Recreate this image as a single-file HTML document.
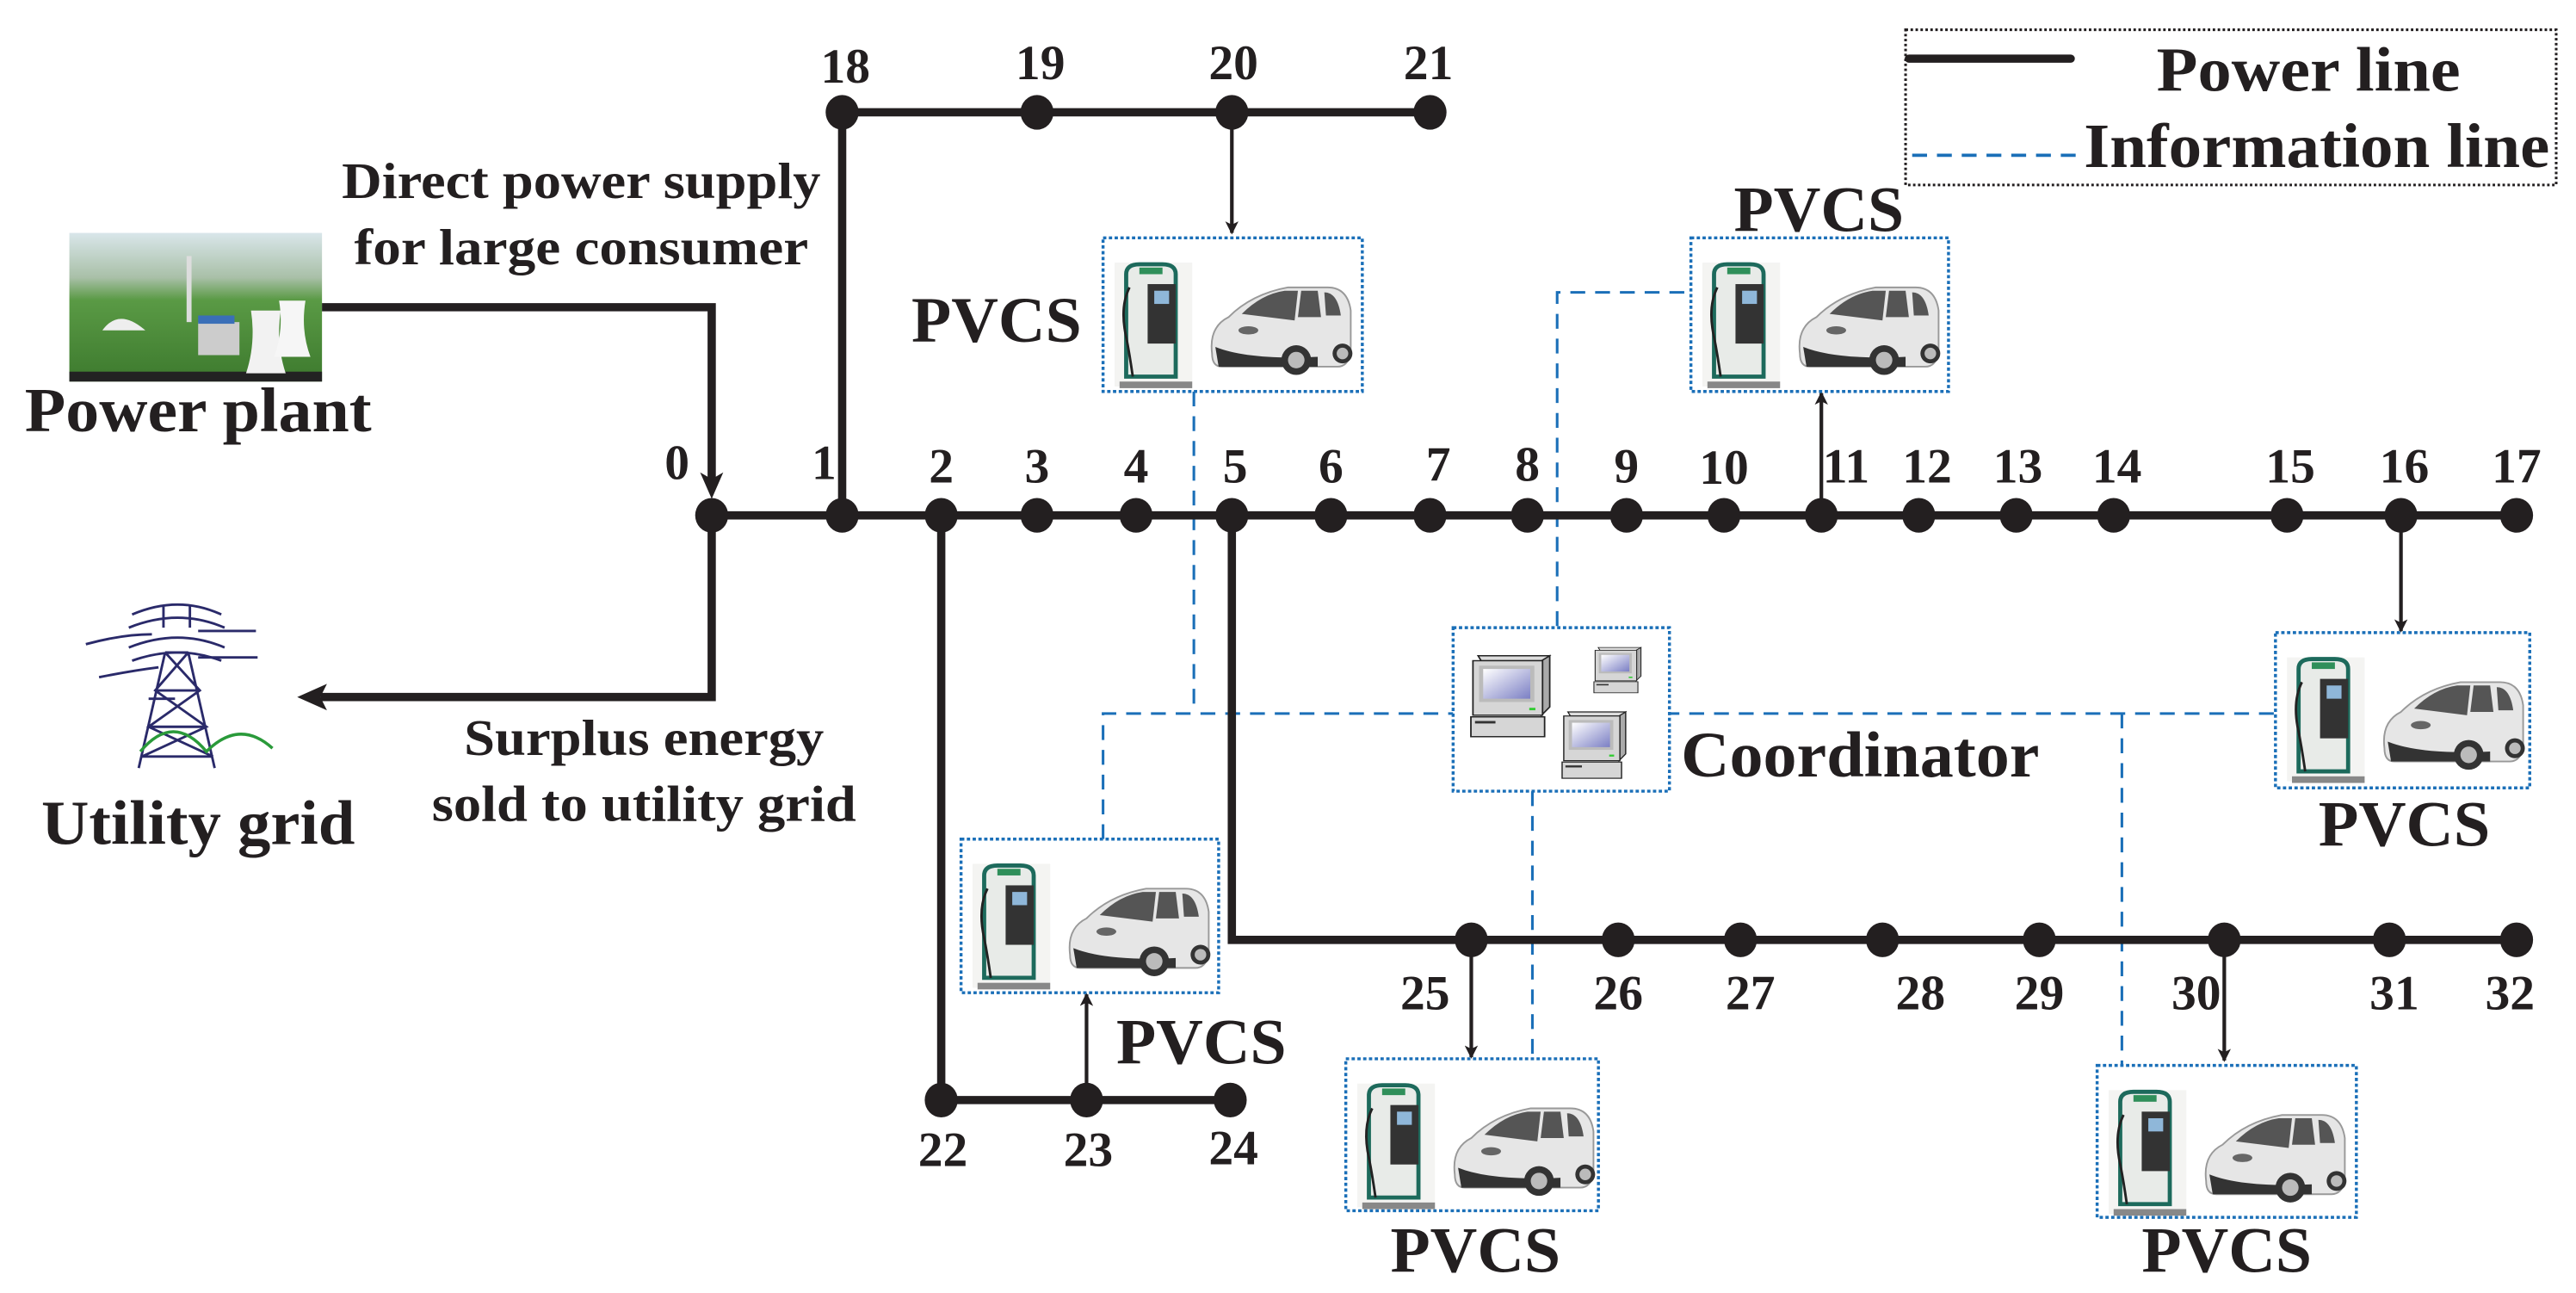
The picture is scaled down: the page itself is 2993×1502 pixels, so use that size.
<!DOCTYPE html>
<html><head><meta charset="utf-8"><style>
html,body{margin:0;padding:0;background:#fff}
svg{display:block}
text{font-family:"Liberation Serif",serif;font-weight:bold;fill:#231f20}
</style></head><body>
<svg width="2993" height="1502" viewBox="0 0 1560 782.8" preserveAspectRatio="none" xmlns="http://www.w3.org/2000/svg">
<defs>
<marker id="ah" markerWidth="8" markerHeight="8" refX="7" refY="4" orient="auto" markerUnits="userSpaceOnUse">
<path d="M0,0 L8,4 L0,8 L2,4 Z" fill="#231f20"/>
</marker>
<linearGradient id="scr" x1="0" y1="0" x2="1" y2="1"><stop offset="0" stop-color="#fff"/><stop offset="1" stop-color="#7b7fc4"/></linearGradient>
<linearGradient id="sky" x1="0" y1="0" x2="0" y2="1"><stop offset="0" stop-color="#d9e6ea"/><stop offset="0.3" stop-color="#a9c0a8"/><stop offset="0.45" stop-color="#5a9a45"/><stop offset="1" stop-color="#3d7a2e"/></linearGradient>
<g id="st">
  <rect x="7" y="15" width="47" height="75" fill="#f4f4f2"/>
  <rect x="10" y="87" width="44" height="4" fill="#888"/>
  <path d="M14,22 q0,-6 8,-6 h14 q8,0 8,6 v62 h-30 z" fill="#e8ebe8" stroke="#1d6a5c" stroke-width="2.5"/>
  <rect x="27" y="28" width="17" height="36" fill="#333"/>
  <rect x="31" y="32" width="9" height="8" fill="#8fb7d9"/>
  <rect x="22" y="18" width="14" height="4" fill="#2f8f5a"/>
  <path d="M16,30 q-6,12 -2,30 q2,10 4,24" fill="none" stroke="#222" stroke-width="1.5"/>
  <path d="M66,70 q-2,-16 10,-22 q14,-14 36,-18 h24 q12,0 14,14 v26 q-2,8 -8,8 h-70 q-6,0 -6,-8z" fill="#e6e6e6" stroke="#999" stroke-width="1"/>
  <path d="M84,46 q12,-12 26,-14 h8 l-2,18 z" fill="#555"/>
  <path d="M120,32 h10 l2,16 h-14 z M134,33 q8,0 10,14 h-9 z" fill="#555"/>
  <path d="M68,66 q20,8 62,6 v6 h-60 z" fill="#333"/>
  <circle cx="117" cy="74" r="9" fill="#333"/><circle cx="117" cy="74" r="5" fill="#bbb"/>
  <circle cx="145" cy="70" r="6" fill="#333"/><circle cx="145" cy="70" r="3.5" fill="#bbb"/>
  <ellipse cx="88" cy="56" rx="6" ry="2.5" fill="#666"/>
</g>
<g id="pc">
  <path d="M5,0 h70 l-5,6 h-62z" fill="#ddd" stroke="#222" stroke-width="1.5"/>
  <path d="M75,0 v62 l-8,10 v-66z" fill="#aaa" stroke="#222" stroke-width="1.5"/>
  <rect x="0" y="6" width="68" height="66" fill="#d6d6d6" stroke="#222" stroke-width="1.5"/>
  <rect x="6" y="12" width="54" height="44" fill="#bbb"/>
  <rect x="10" y="16" width="46" height="36" fill="url(#scr)"/>
  <rect x="55" y="63" width="6" height="3" fill="#3c3"/>
  <rect x="-2" y="74" width="72" height="24" fill="#d6d6d6" stroke="#222" stroke-width="1.5"/>
  <rect x="2" y="79" width="20" height="3" fill="#333"/>
</g>
</defs>

<rect x="1154" y="18" width="394" height="94" fill="none" stroke="#231f20" stroke-width="1.6" stroke-dasharray="1.5 1.5"/>
<line x1="1156" y1="35.5" x2="1254" y2="35.5" stroke="#231f20" stroke-width="5" stroke-linecap="round"/>
<line x1="1158" y1="94" x2="1262" y2="94" stroke="#1a6fb8" stroke-width="2" stroke-dasharray="9 6"/>
<text x="1306" y="55" font-size="38" textLength="184" lengthAdjust="spacingAndGlyphs">Power line</text>
<text x="1262" y="101" font-size="38" textLength="282" lengthAdjust="spacingAndGlyphs">Information line</text>

<rect x="42" y="141" width="153" height="90" fill="url(#sky)"/>
<rect x="42" y="225" width="153" height="6" fill="#222"/>
<rect x="113" y="155" width="3" height="40" fill="#ddd"/>
<path d="M62,200 q10,-14 26,0 z" fill="#eee"/>
<rect x="120" y="195" width="25" height="20" fill="#ccc"/>
<rect x="120" y="191" width="22" height="5" fill="#3a6fb8"/>
<path d="M152,188 h18 q-3,20 3,38 h-24 q6,-18 3,-38z" fill="#f2f2f2"/>
<path d="M169,182 h16 q-3,18 3,34 h-22 q6,-16 3,-34z" fill="#f6f6f6"/>

<g stroke="#2a2a6a" stroke-width="1.5" fill="none">
<path d="M100,395 l-16,70 M114,395 l16,70 M100,395 h14 M94,418 h27 M90,440 h35 M86,458 h43 M100,395 l21,23 l-31,22 l39,18 M114,395 l-20,23 l31,22 l-39,18"/>
<path d="M78,380 q30,-12 58,0 M80,372 q28,-12 54,0 M99,366 v14 M115,366 v14 M80,400 q28,-10 54,0 M78,392 q30,-12 58,0"/>
<path d="M52,390 q22,-6 40,-6 M60,410 q20,-4 36,-6 M120,382 h35 M120,398 h36 M106,423 h-16"/>
</g>
<path d="M85,455 q20,-24 40,0 q20,-20 40,-2" fill="none" stroke="#2a9a3a" stroke-width="1.8"/>

<text x="352" y="120" font-size="31" text-anchor="middle" textLength="290" lengthAdjust="spacingAndGlyphs">Direct power supply</text>
<text x="352" y="160" font-size="31" text-anchor="middle" textLength="275" lengthAdjust="spacingAndGlyphs">for large consumer</text>
<text x="15" y="261" font-size="38" textLength="210" lengthAdjust="spacingAndGlyphs">Power plant</text>
<text x="390" y="457" font-size="31" text-anchor="middle" textLength="218" lengthAdjust="spacingAndGlyphs">Surplus energy</text>
<text x="390" y="497" font-size="31" text-anchor="middle" textLength="257" lengthAdjust="spacingAndGlyphs">sold to utility grid</text>
<text x="25" y="511" font-size="38" textLength="190" lengthAdjust="spacingAndGlyphs">Utility grid</text>

<g stroke="#1a6fb8" stroke-width="1.6" fill="none" stroke-dasharray="9 6">
<path d="M723,237 V432 M668,508 V432 H880"/>
<path d="M1008,432 H1378 M1285,432 V645"/>
<path d="M928,479 V645"/>
<path d="M943,379 V177 H1024"/>
</g>

<g stroke="#231f20" stroke-width="5" fill="none">
<line x1="431" y1="312" x2="1524" y2="312"/>
<polyline points="510,312 510,68 866,68"/>
<polyline points="746,312 746,569 1524,569"/>
<polyline points="570,312 570,666 745,666"/>
<polyline points="195,186 431,186 431,290"/>
<polyline points="431,312 431,422 194,422"/>
</g>
<path d="M431,302 L424,286 L431,290 L438,286 Z" fill="#231f20"/>
<path d="M180,422 L198,414 L194,422 L198,430 Z" fill="#231f20"/>
<g stroke="#231f20" stroke-width="2.2" fill="none">
<line x1="746" y1="68" x2="746" y2="141" marker-end="url(#ah)"/>
<line x1="1103" y1="312" x2="1103" y2="238" marker-end="url(#ah)"/>
<line x1="1454" y1="312" x2="1454" y2="382" marker-end="url(#ah)"/>
<line x1="658" y1="666" x2="658" y2="602" marker-end="url(#ah)"/>
<line x1="891" y1="569" x2="891" y2="640" marker-end="url(#ah)"/>
<line x1="1347" y1="569" x2="1347" y2="642" marker-end="url(#ah)"/>
</g>

<g fill="#231f20">
<ellipse cx="431" cy="312" rx="10" ry="10.5"/><ellipse cx="510" cy="312" rx="10" ry="10.5"/>
<ellipse cx="570" cy="312" rx="10" ry="10.5"/><ellipse cx="628" cy="312" rx="10" ry="10.5"/>
<ellipse cx="688" cy="312" rx="10" ry="10.5"/><ellipse cx="746" cy="312" rx="10" ry="10.5"/>
<ellipse cx="806" cy="312" rx="10" ry="10.5"/><ellipse cx="866" cy="312" rx="10" ry="10.5"/>
<ellipse cx="925" cy="312" rx="10" ry="10.5"/><ellipse cx="985" cy="312" rx="10" ry="10.5"/>
<ellipse cx="1044" cy="312" rx="10" ry="10.5"/><ellipse cx="1103" cy="312" rx="10" ry="10.5"/>
<ellipse cx="1162" cy="312" rx="10" ry="10.5"/><ellipse cx="1221" cy="312" rx="10" ry="10.5"/>
<ellipse cx="1280" cy="312" rx="10" ry="10.5"/><ellipse cx="1385" cy="312" rx="10" ry="10.5"/>
<ellipse cx="1454" cy="312" rx="10" ry="10.5"/><ellipse cx="1524" cy="312" rx="10" ry="10.5"/>
<ellipse cx="510" cy="68" rx="10" ry="10.5"/><ellipse cx="628" cy="68" rx="10" ry="10.5"/>
<ellipse cx="746" cy="68" rx="10" ry="10.5"/><ellipse cx="866" cy="68" rx="10" ry="10.5"/>
<ellipse cx="570" cy="666" rx="10" ry="10.5"/><ellipse cx="658" cy="666" rx="10" ry="10.5"/>
<ellipse cx="745" cy="666" rx="10" ry="10.5"/>
<ellipse cx="891" cy="569" rx="10" ry="10.5"/><ellipse cx="980" cy="569" rx="10" ry="10.5"/>
<ellipse cx="1054" cy="569" rx="10" ry="10.5"/><ellipse cx="1140" cy="569" rx="10" ry="10.5"/>
<ellipse cx="1235" cy="569" rx="10" ry="10.5"/><ellipse cx="1347" cy="569" rx="10" ry="10.5"/>
<ellipse cx="1447" cy="569" rx="10" ry="10.5"/><ellipse cx="1524" cy="569" rx="10" ry="10.5"/>
</g>

<g font-size="30" text-anchor="middle">
<text x="410" y="290">0</text><text x="499" y="290">1</text><text x="570" y="292">2</text>
<text x="628" y="292">3</text><text x="688" y="292">4</text><text x="748" y="292">5</text>
<text x="806" y="292">6</text><text x="871" y="291">7</text><text x="925" y="291">8</text>
<text x="985" y="292">9</text><text x="1044" y="293">10</text><text x="1118" y="292">11</text>
<text x="1167" y="292">12</text><text x="1222" y="292">13</text><text x="1282" y="292">14</text>
<text x="1387" y="292">15</text><text x="1456" y="292">16</text><text x="1524" y="292">17</text>
<text x="512" y="50">18</text><text x="630" y="48">19</text><text x="747" y="48">20</text><text x="865" y="48">21</text>
<text x="571" y="706">22</text><text x="659" y="706">23</text><text x="747" y="705">24</text>
<text x="863" y="611">25</text><text x="980" y="611">26</text><text x="1060" y="611">27</text>
<text x="1163" y="611">28</text><text x="1235" y="611">29</text><text x="1330" y="611">30</text>
<text x="1450" y="611">31</text><text x="1520" y="611">32</text>
</g>

<g fill="#fff" stroke="#1a6fb8" stroke-width="1.8" stroke-dasharray="2 1.5">
<rect x="668" y="144" width="157" height="93"/>
<rect x="1024" y="144" width="156" height="93"/>
<rect x="1378" y="383" width="154" height="94"/>
<rect x="582" y="508" width="156" height="93"/>
<rect x="815" y="641" width="153" height="92"/>
<rect x="1270" y="645" width="157" height="92"/>
<rect x="880" y="380" width="131" height="99"/>
</g>
<use href="#st" x="668" y="144"/>
<use href="#st" x="1024" y="144"/>
<use href="#st" x="1378" y="383"/>
<use href="#st" x="582" y="508"/>
<use href="#st" x="815" y="641"/>
<use href="#st" x="1270" y="645"/>

<use href="#pc" transform="translate(892,397) scale(0.62,0.5)"/>
<use href="#pc" transform="translate(966,392) scale(0.37,0.28)"/>
<use href="#pc" transform="translate(947,431) scale(0.5,0.41)"/>

<g font-size="39">
<text x="552" y="207" textLength="103" lengthAdjust="spacingAndGlyphs">PVCS</text>
<text x="1050" y="140" textLength="103" lengthAdjust="spacingAndGlyphs">PVCS</text>
<text x="1404" y="512" textLength="104" lengthAdjust="spacingAndGlyphs">PVCS</text>
<text x="676" y="644" textLength="103" lengthAdjust="spacingAndGlyphs">PVCS</text>
<text x="842" y="770" textLength="103" lengthAdjust="spacingAndGlyphs">PVCS</text>
<text x="1297" y="770" textLength="103" lengthAdjust="spacingAndGlyphs">PVCS</text>
<text x="1018" y="470" textLength="217" lengthAdjust="spacingAndGlyphs">Coordinator</text>
</g>
</svg>
</body></html>
